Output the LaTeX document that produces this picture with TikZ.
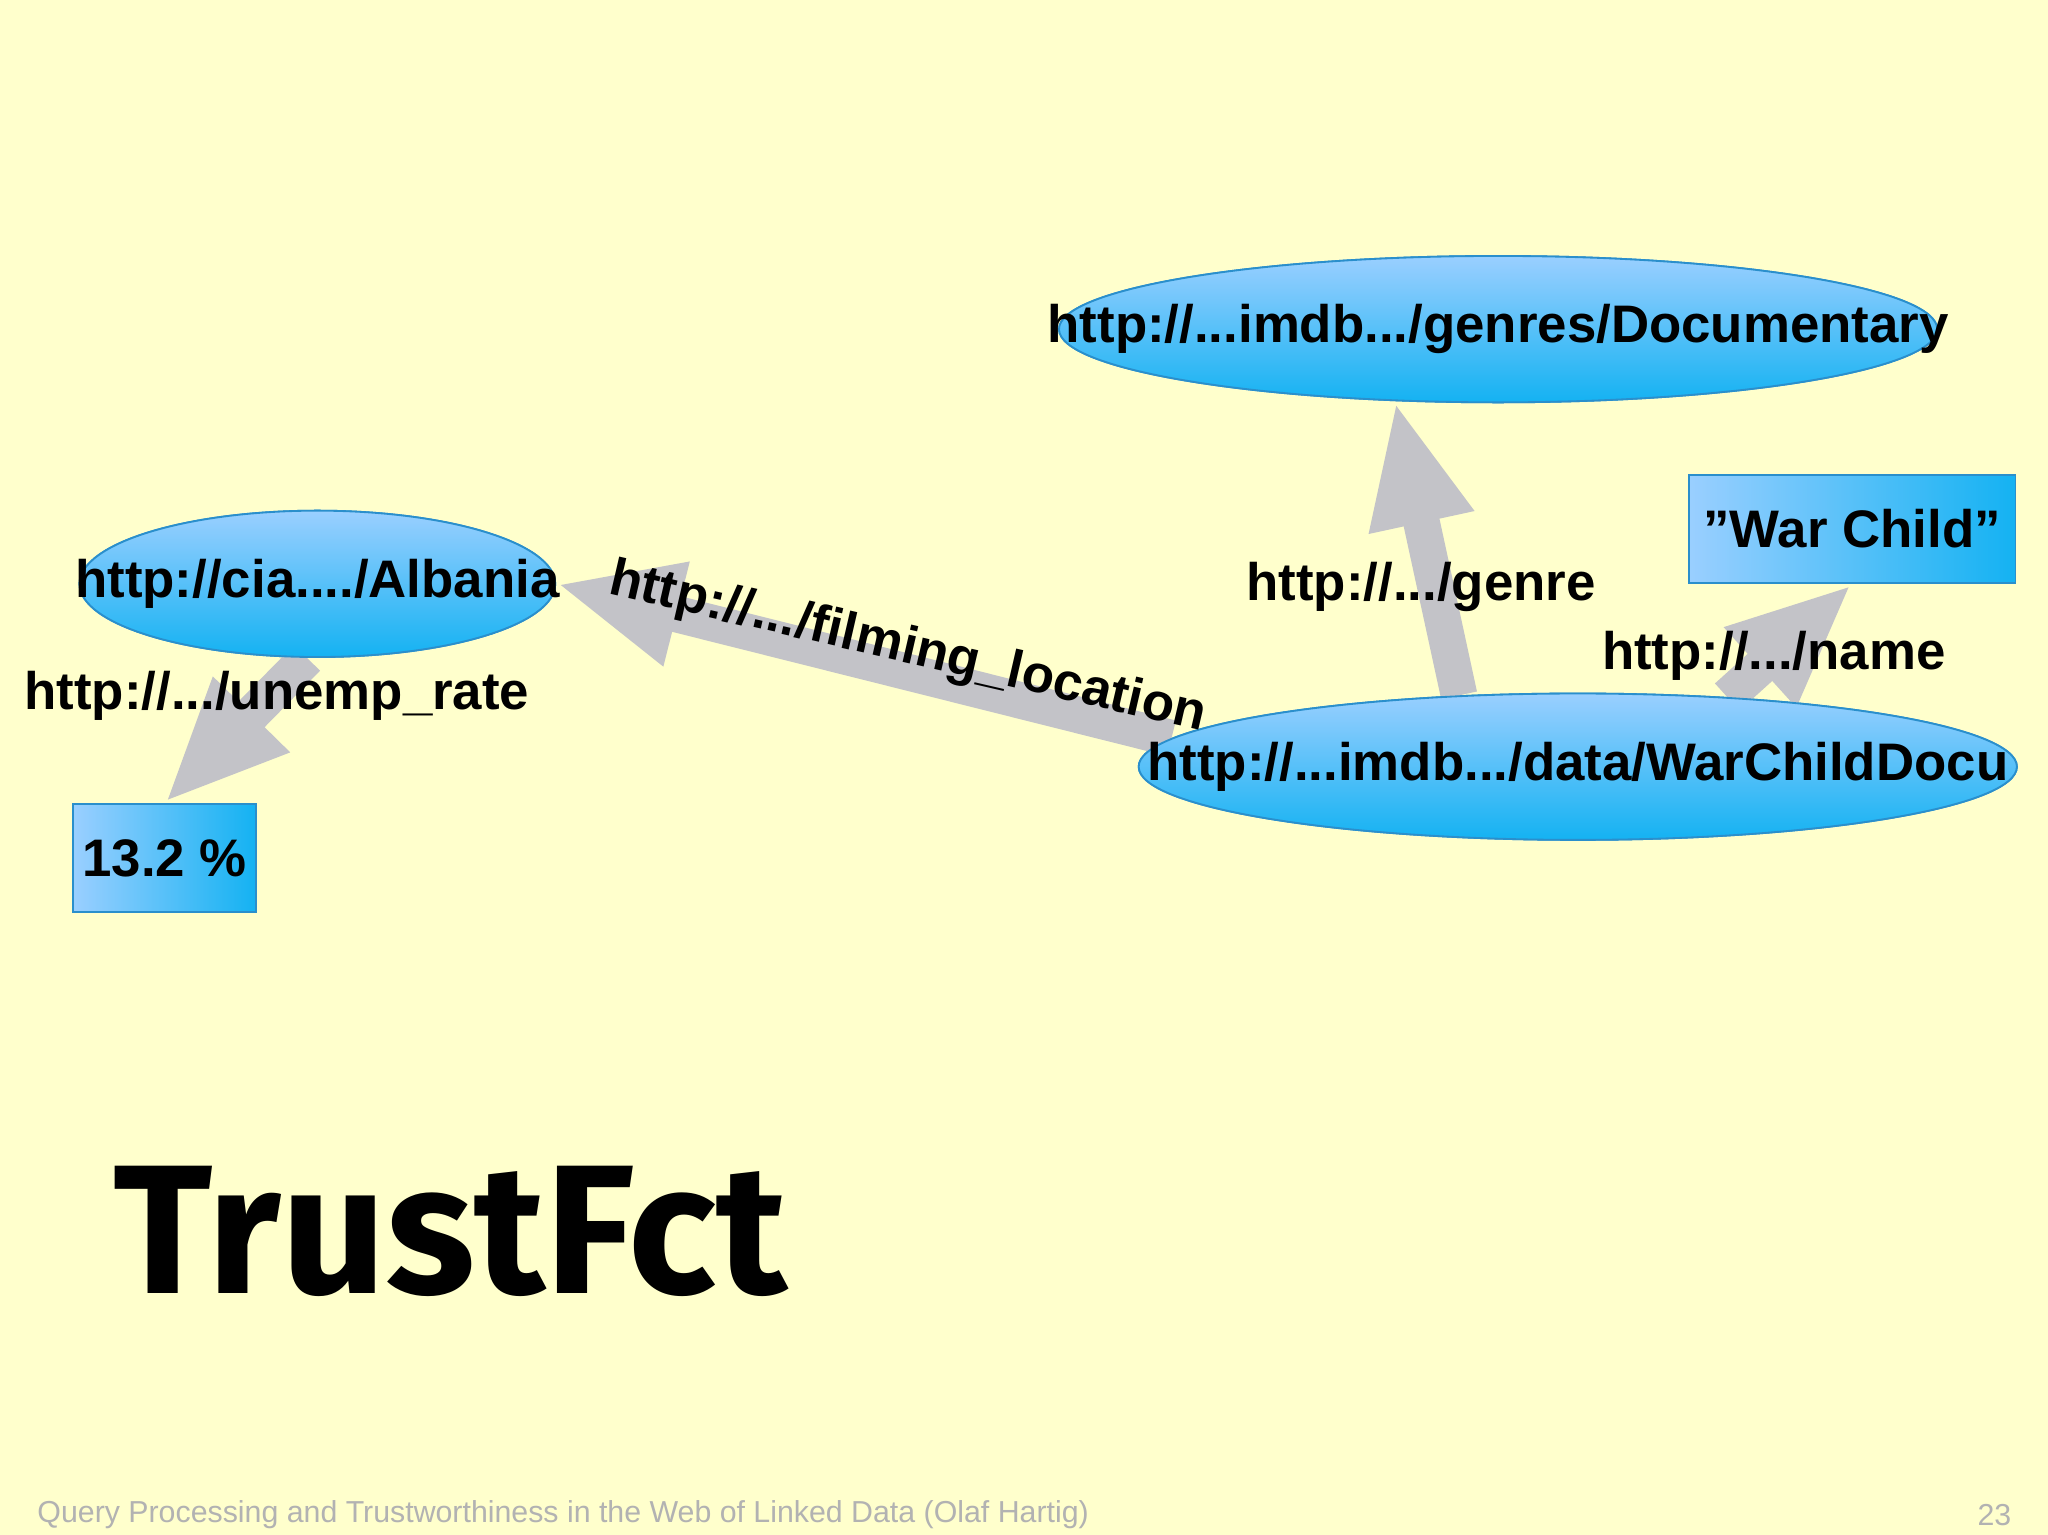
\documentclass[tikz,border=0pt]{standalone}
\usepackage{fontspec}
\setmainfont{Liberation Sans}
\newfontfamily\bigfont{Fira Sans}
\usetikzlibrary{arrows.meta,shapes.geometric}
\definecolor{bg}{HTML}{FFFFCC}
\definecolor{arr}{HTML}{C3C3C8}
\definecolor{blt}{HTML}{9ACFFF}
\definecolor{bdk}{HTML}{14B2F2}
\definecolor{bbd}{HTML}{2A8FCC}
\tikzset{
  ell/.style={ellipse,draw=bbd,line width=0.4pt,top color=blt,bottom color=bdk,inner sep=0pt},
  box/.style={rectangle,draw=bbd,line width=0.4pt,left color=blt,right color=bdk,inner sep=0pt},
  lbl/.style={font=\fontsize{11.5}{13}\selectfont\bfseries,inner sep=0pt},
  conn/.style={draw=arr,line width=0.28cm,-{Triangle[width=0.75cm,length=0.95cm]}}
}
\begin{document}
\begin{tikzpicture}[x=0.01cm,y=-0.01cm]
\fill[bg] (0,0) rectangle (1568,1175);
\useasboundingbox (0,0) rectangle (1568,1175);
\node[ell,minimum width=6.72cm,minimum height=1.12cm] (doc) at (1147,252) {};
\node[ell,minimum width=3.64cm,minimum height=1.12cm] (alb) at (243,447) {};
\node[ell,minimum width=6.72cm,minimum height=1.12cm] (wcd) at (1208,587) {};
\node[box,minimum width=2.5cm,minimum height=0.83cm] (wc) at (1418,405) {};
\node[box,minimum width=1.4cm,minimum height=0.83cm] (pct) at (126,657) {};
\begin{scope}[on background layer/.style={}]
\end{scope}
% connectors (drawn, then nodes redrawn on top)
\draw[conn] (wcd.149) -- (doc.215);
\draw[conn] (wcd.176) -- (alb.0);
\draw[conn] (alb.262) -- (pct.north);
\draw[conn] (wcd.25) -- (wc.south);
\node[ell,minimum width=6.72cm,minimum height=1.12cm] at (1147,252) {};
\node[ell,minimum width=3.64cm,minimum height=1.12cm] at (243,447) {};
\node[ell,minimum width=6.72cm,minimum height=1.12cm] at (1208,587) {};
\node[box,minimum width=2.5cm,minimum height=0.83cm] at (1418,405) {};
\node[box,minimum width=1.4cm,minimum height=0.83cm] at (126,657) {};
\node[lbl] (tdoc) at (doc) {http://...imdb.../genres/Documentary};
\node[lbl] (talb) at (alb) {http://cia..../Albania};
\node[lbl] (twcd) at (wcd) {http://...imdb.../data/WarChildDocu};
\node[lbl] (twc) at (wc) {"War Child"};
\node[lbl] (tpct) at (pct) {13.2 \%};
\node[lbl] (lgenre) at (1088,449) {http://.../genre};
\node[lbl] (lname) at (1358,502) {http://.../name};
\node[lbl] (lunemp) at (212,533) {http://.../unemp\_rate};
\node[lbl,rotate=-13] (lfilm) at (695,497) {http://.../filming\_location};
\node[font=\bigfont\fontsize{40}{44}\selectfont\bfseries,inner sep=0pt] (trust) at (345,943) {TrustFct};
\node[font=\fontsize{6.6}{8}\selectfont,text=black!30,anchor=west,inner sep=0pt] (foot) at (28,1160) {Query Processing and Trustworthiness in the Web of Linked Data (Olaf Hartig)};
\node[font=\fontsize{6.6}{8}\selectfont,text=black!30,inner sep=0pt] (pg) at (1527,1160) {23};
\end{tikzpicture}
\end{document}
